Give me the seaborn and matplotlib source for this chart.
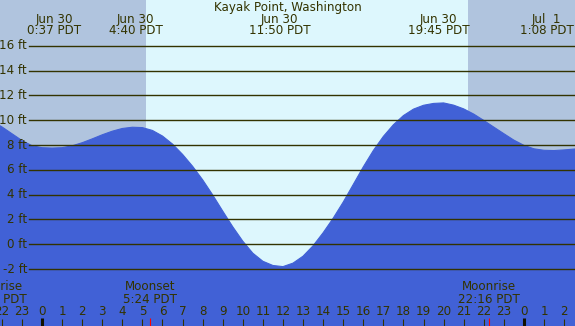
import numpy as np
import matplotlib
matplotlib.use('Agg')
import matplotlib.pyplot as plt
import seaborn as sns

plt.rcParams['font.family'] = ['DejaVu Sans']

# data (hours from midnight Jun 30, PDT)
title = 'Kayak Point, Washington'
hours = np.arange(-2.5, 27.01, 0.5)
tide_ft = [9.95, 9.47, 8.92, 8.37, 7.95, 7.79, 7.76, 7.79, 7.94, 8.19,
           8.50, 8.83, 9.12, 9.34, 9.44, 9.41, 9.18, 8.73, 8.08, 7.25,
           6.29, 5.20, 3.98, 2.68, 1.41, 0.25, -0.72, -1.37, -1.71, -1.80,
           -1.52, -0.96, -0.12, 0.93, 2.10, 3.40, 4.82, 6.24, 7.56, 8.70,
           9.64, 10.38, 10.90, 11.21, 11.36, 11.40, 11.22, 10.92, 10.50, 9.99,
           9.45, 8.92, 8.40, 7.98, 7.70, 7.58, 7.56, 7.61, 7.68, 7.78]

tide_times = [0.617, 4.667, 11.833, 19.75, 25.133]
tide_dates = ['Jun 30', 'Jun 30', 'Jun 30', 'Jun 30', 'Jul  1']
tide_labels = ['0:37 PDT', '4:40 PDT', '11:50 PDT', '19:45 PDT', '1:08 PDT']

sunrise = 5.18
sunset = 21.21

moon_times = [-2.3, 5.4, 22.267]
moon_events = ['Moonrise', 'Moonset', 'Moonrise']
moon_labels = ['21:42 PDT', '5:24 PDT', '22:16 PDT']

hour_ticks = np.arange(-2, 27)
ft_levels = np.arange(-2, 17, 2)

# colours
night = '#b0c4de'
day = '#ddf7fd'
water = '#4161d6'
ink = '#333300'

fig = plt.figure(figsize=(5.75, 3.26), dpi=100)
ax = fig.add_axes([0, 0, 1, 1])
x0, x1 = -2.092, 26.544
ax.set_xlim(x0, x1)
ax.set_ylim(-6.59, 19.70)
ax.set_facecolor(day)
ax.set_xticks([])
ax.set_yticks([])
for s in ax.spines.values():
    s.set_visible(False)

# night shading
ax.axvspan(x0, sunrise, color=night, lw=0)
ax.axvspan(sunset, x1, color=night, lw=0)

# tide curve
sns.lineplot(x=hours, y=tide_ft, ax=ax, color=water, lw=0.8)
ax.fill_between(hours, tide_ft, -10, color=water, lw=0)

# height grid + labels
for lev in ft_levels:
    ax.axhline(lev, xmin=0.05, xmax=1, color=ink, lw=1.0)
    ax.text(0.047, lev, f'{lev} ft', transform=ax.get_yaxis_transform(),
            ha='right', va='center', fontsize=8.6, color=ink)

# title and tide times
xt = ax.get_xaxis_transform()
ax.text(0.5, 0.9785, title, transform=ax.transAxes, ha='center', va='center',
        fontsize=8.6, color=ink)
for t, d, lab in zip(tide_times, tide_dates, tide_labels):
    ax.text(t, 0.9417, d, transform=xt, ha='center', va='center', fontsize=8.6, color=ink)
    ax.text(t, 0.905, lab, transform=xt, ha='center', va='center', fontsize=8.6, color=ink)

# moon events
for t, ev, lab in zip(moon_times, moon_events, moon_labels):
    ax.text(t, 0.12, ev, transform=xt, ha='center', va='center', fontsize=8.6, color=ink)
    ax.text(t, 0.08, lab, transform=xt, ha='center', va='center', fontsize=8.6, color=ink)
ax.vlines(moon_times, 0, 8 / 326, transform=xt, color='red', lw=0.8)

# hour axis
for h in hour_ticks:
    ax.text(h, 0.0445, str(h % 24), transform=xt, ha='center', va='center',
            fontsize=8.6, color=ink)
    if h % 24 == 0:
        ax.vlines(h, 0, 8 / 326, transform=xt, color='#111100', lw=2.2)
    else:
        ax.vlines(h, 0, 7 / 326, transform=xt, color=ink, lw=0.8)

fig.savefig('out.png', dpi=100)
